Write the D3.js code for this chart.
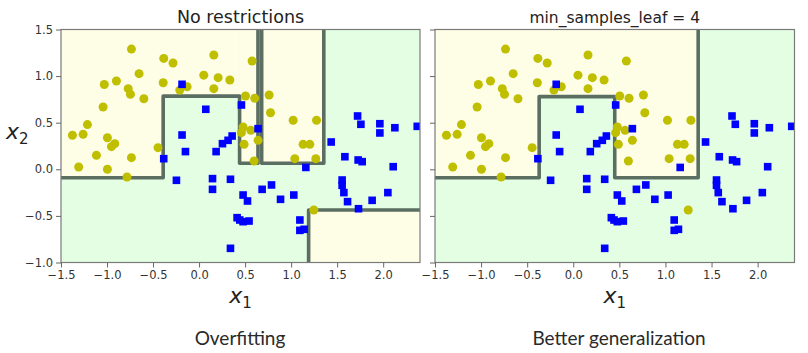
<!DOCTYPE html>
<html><head><meta charset="utf-8">
<script src="https://cdn.jsdelivr.net/npm/d3@7"></script>
<style>
html,body{margin:0;padding:0;background:#fff;}
svg{display:block;}
</style></head>
<body>
<svg id="chart" width="808" height="353"></svg>
<script>
// ---------- data ----------
const yellowX = [-0.735,-1.376,-1.26,-1.213,-1.043,-1.03,-0.898,-0.77,-0.746,-0.652,-0.60,-0.39,-0.384,-0.283,-0.21,-0.13,0.051,0.16,0.207,0.16,0.334,-0.996,-0.952,-0.916,-0.446,0.576,0.504,0.605,0.761,0.776,1.022,1.276,0.478,0.46,0.562,0.641,0.489,1.13,1.203,0.598,1.04,1.268,1.247,-1.308,-1.115,-0.996,-0.783,-0.735];
const yellowY = [1.29,0.365,0.375,0.48,0.668,0.91,0.947,0.865,0.805,1.026,0.757,0.929,1.19,1.14,0.85,0.886,1.01,1.226,0.983,0.865,0.958,0.339,0.243,0.275,0.232,1.162,0.786,0.762,0.797,0.607,0.526,0.526,0.454,0.393,0.418,0.311,0.268,0.268,0.268,0.089,0.114,0.114,-0.437,0.025,0.15,0.0,-0.083,0.125];
const blueX = [-0.185,0.073,-0.185,0.254,0.315,0.359,-0.148,0.185,0.46,0.641,1.722,1.758,1.964,1.964,2.127,2.37,1.435,-0.384,1.16,-0.246,0.146,0.146,0.341,0.478,0.526,0.685,0.787,0.885,1.029,0.413,0.442,0.478,0.543,1.095,1.095,1.141,0.341,1.584,1.728,1.772,2.109,1.554,1.554,1.573,1.613,1.88,2.051,1.732];
const blueY = [0.912,0.644,0.368,0.275,0.311,0.357,0.19,0.19,0.69,0.436,0.572,0.483,0.489,0.39,0.446,0.461,0.293,0.114,0.02,-0.118,-0.1,-0.215,-0.107,-0.276,-0.34,-0.215,-0.168,-0.322,-0.276,-0.519,-0.544,-0.562,-0.555,-0.544,-0.655,-0.644,-0.848,0.135,0.1,0.082,0.028,-0.115,-0.172,-0.25,-0.347,-0.333,-0.25,-0.423];

const axisLimits = [-1.5, 2.4, -1, 1.5];
const xTicks = [-1.5,-1.0,-0.5,0.0,0.5,1.0,1.5,2.0];
const yTicks = [-1.0,-0.5,0.0,0.5,1.0,1.5];

// yellow (class 0) regions as [xmin, xmax, ymin, ymax] in data units
const leftYellowRegions = [[-1.5,-0.39,-0.09,1.5],[-0.39,0.44,0.785,1.5],[0.44,0.64,0.065,1.5],[0.68,1.355,0.065,1.5],[1.19,2.4,-1,-0.437]];
const leftBoundaries = [
  [[-1.5,-0.09],[-0.39,-0.09],[-0.39,0.785],[0.44,0.785],[0.44,0.065],[0.64,0.065],[0.64,1.5]],
  [[0.68,1.5],[0.68,0.065],[1.355,0.065],[1.355,1.5]],
  [[1.19,-1],[1.19,-0.437],[2.4,-0.437]]
];
const rightYellowRegions = [[-1.5,-0.37,-0.09,1.5],[-0.37,0.45,0.78,1.5],[0.45,1.355,-0.09,1.5]];
const rightBoundaries = [
  [[-1.5,-0.09],[-0.37,-0.09],[-0.37,0.78],[0.45,0.78],[0.45,-0.09],[1.355,-0.09],[1.355,1.5]]
];

const panelTitles = ["No restrictions","min_samples_leaf = 4"];
const captions = ["Overfitting","Better generalization"];

// ---------- drawing ----------
const svg = d3.select("#chart");
const panels = [
  {left:61, right:420, title:panelTitles[0], titleSize:17.5, regions:leftYellowRegions, lines:leftBoundaries, yLabels:true, caption:captions[0], capX:240},
  {left:435, right:794.5, title:panelTitles[1], titleSize:15.5, regions:rightYellowRegions, lines:rightBoundaries, yLabels:false, caption:captions[1], capX:619}
];
const plotTop = 29.5, plotBottom = 262.5;

panels.forEach((p,i)=>{
  const x = d3.scaleLinear().domain([axisLimits[0],axisLimits[1]]).range([p.left,p.right]);
  const y = d3.scaleLinear().domain([axisLimits[2],axisLimits[3]]).range([plotBottom,plotTop]);
  const g = svg.append("g");
  const clipId = "clip"+i;
  svg.append("defs").append("clipPath").attr("id",clipId)
    .append("rect").attr("x",p.left).attr("y",plotTop).attr("width",p.right-p.left).attr("height",plotBottom-plotTop);
  const pg = g.append("g").attr("clip-path",`url(#${clipId})`);
  pg.append("rect").attr("x",p.left).attr("y",plotTop).attr("width",p.right-p.left).attr("height",plotBottom-plotTop).attr("fill","#e3fee3");
  pg.selectAll("rect.yr").data(p.regions).join("rect").attr("class","yr")
    .attr("x",d=>x(d[0])).attr("width",d=>x(d[1])-x(d[0]))
    .attr("y",d=>y(d[3])).attr("height",d=>y(d[2])-y(d[3]))
    .attr("fill","#fefee7");
  const line = d3.line().x(d=>x(d[0])).y(d=>y(d[1]));
  pg.selectAll("path.bd").data(p.lines).join("path").attr("class","bd")
    .attr("d",line).attr("fill","none").attr("stroke","#52665a").attr("stroke-width",3.6)
    .attr("stroke-linejoin","round").attr("stroke-linecap","butt").attr("stroke-opacity",0.95);
  pg.selectAll("circle.yo").data(yellowX.map((v,k)=>[v,yellowY[k]])).join("circle").attr("class","yo")
    .attr("cx",d=>x(d[0])).attr("cy",d=>y(d[1])).attr("r",4.5).attr("fill","#bfbf00");
  const s = 7.6;
  pg.selectAll("rect.bs").data(blueX.map((v,k)=>[v,blueY[k]])).join("rect").attr("class","bs")
    .attr("x",d=>x(d[0])-s/2).attr("y",d=>y(d[1])-s/2).attr("width",s).attr("height",s).attr("fill","#0000ff");
  g.append("rect").attr("x",p.left).attr("y",plotTop).attr("width",p.right-p.left).attr("height",plotBottom-plotTop)
    .attr("fill","none").attr("stroke","#7a7a7a").attr("stroke-width",1.2);
  const fmt = d=> d3.format(".1f")(d).replace("-","\u2212");
  const xa = g.append("g").attr("transform",`translate(0,${plotBottom})`)
    .call(d3.axisBottom(x).tickValues(xTicks).tickFormat(fmt).tickSize(5).tickPadding(3));
  const ya = g.append("g").attr("transform",`translate(${p.left},0)`)
    .call(d3.axisLeft(y).tickValues(yTicks).tickFormat(p.yLabels?fmt:()=> "").tickSize(5).tickPadding(3));
  [xa,ya].forEach(a=>{
    a.select(".domain").remove();
    a.selectAll("line").attr("stroke","#666").attr("stroke-width",1);
    a.selectAll("text").attr("font-family","DejaVu Sans").attr("font-size",11.5).attr("fill","#333");
  });
  g.append("text").attr("x",(p.left+p.right)/2).attr("y",22.7).attr("text-anchor","middle")
    .attr("font-family","DejaVu Sans").attr("font-size",p.titleSize).attr("fill","#222").text(p.title);
  const xl = g.append("text").attr("x",(p.left+p.right)/2).attr("y",303).attr("text-anchor","middle")
    .attr("font-family","DejaVu Sans").attr("fill","#222");
  xl.append("tspan").attr("font-style","italic").attr("font-size",22).text("x");
  xl.append("tspan").attr("font-size",15).attr("dy",5).text("1");
  g.append("text").attr("x",p.capX).attr("y",345).attr("text-anchor","middle")
    .attr("font-family","Lato").attr("font-size",19).attr("fill","#2a2a2a").text(p.caption);
});
const yl = svg.append("text").attr("x",6).attr("y",139).attr("font-family","DejaVu Sans").attr("fill","#222");
yl.append("tspan").attr("font-style","italic").attr("font-size",22).text("x");
yl.append("tspan").attr("font-size",15).attr("dy",5).text("2");
</script>
</body></html>
